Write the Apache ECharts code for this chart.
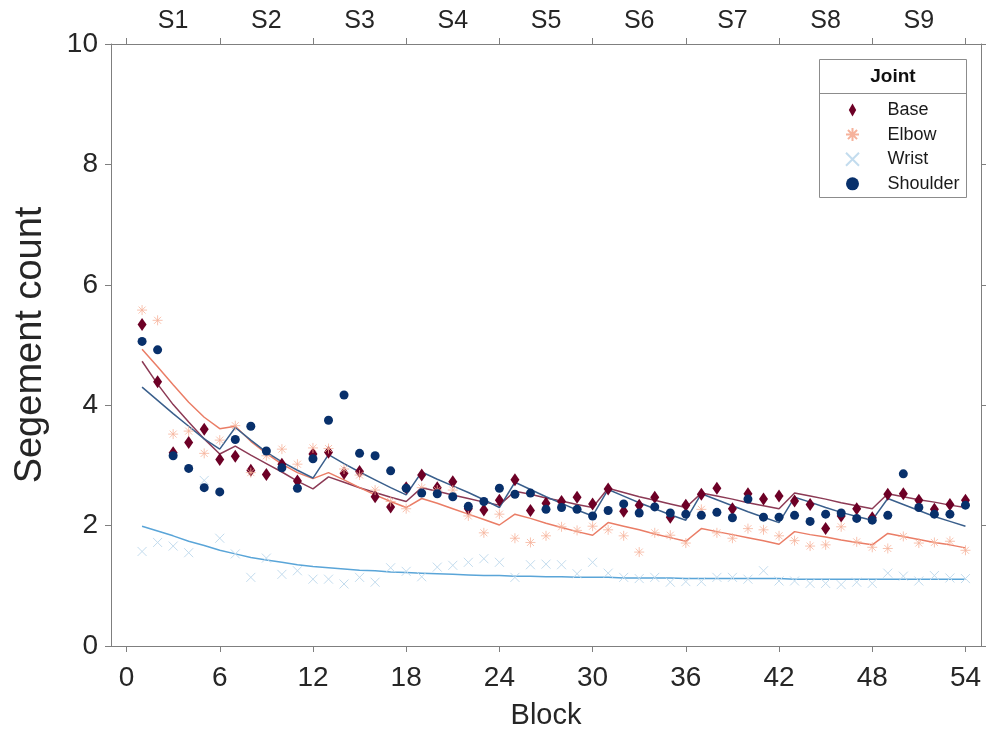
<!DOCTYPE html>
<html><head><meta charset="utf-8">
<script src="https://cdn.jsdelivr.net/npm/echarts@6/dist/echarts.min.js"></script>
<style>html,body{margin:0;padding:0;background:#fff}#c{width:986px;height:736px}</style>
</head><body><div id="c"></div>
<script>
const blocks = [1,2,3,4,5,6,7,8,9,10,11,12,13,14,15,16,17,18,19,20,21,22,23,24,25,26,27,
  28,29,30,31,32,33,34,35,36,37,38,39,40,41,42,43,44,45,46,47,48,49,50,51,52,53,54];
const sessions = ['S1','S2','S3','S4','S5','S6','S7','S8','S9'];
const sessionCenters = [3,9,15,21,27,33,39,45,51];
const blockTicks = [0,6,12,18,24,30,36,42,48,54];

const baseVals = [5.34,4.39,3.21,3.38,3.60,3.10, 3.15,2.92,2.85,3.02,2.74,3.19,
  3.22,2.87,2.90,2.48,2.31,2.63, 2.84,2.63,2.73,2.28,2.26,2.42, 2.76,2.25,2.37,2.40,2.47,2.36,
  2.61,2.24,2.34,2.47,2.14,2.34, 2.52,2.62,2.28,2.53,2.44,2.49, 2.41,2.35,1.95,2.16,2.28,2.13,
  2.52,2.53,2.42,2.27,2.35,2.42];
const elbowVals = [5.58,5.41,3.52,3.57,3.20,3.42, 3.66,2.88,3.16,3.27,3.02,3.29,
  3.28,2.94,2.84,2.59,2.40,2.28, 2.63,2.59,2.59,2.16,1.88,2.19, 1.79,1.72,1.83,1.98,1.92,1.99,
  1.93,1.83,1.56,1.88,1.84,1.71, 2.27,1.88,1.79,1.95,1.93,1.83, 1.75,1.66,1.68,1.98,1.73,1.64,
  1.62,1.82,1.71,1.72,1.74,1.59];
const wristVals = [1.57,1.72,1.66,1.55,2.75,1.79, 1.53,1.14,1.46,1.19,1.25,1.11,
  1.11,1.03,1.14,1.06,1.30,1.24, 1.15,1.31,1.34,1.39,1.45,1.39, 1.14,1.35,1.36,1.35,1.20,1.39,
  1.21,1.14,1.12,1.14,1.06,1.07, 1.07,1.14,1.14,1.11,1.25,1.08, 1.08,1.04,1.04,1.02,1.06,1.04,
  1.21,1.16,1.08,1.17,1.13,1.12];
const shoulderVals = [5.06,4.92,3.16,2.95,2.63,2.56, 3.43,3.65,3.24,2.96,2.62,3.11,
  3.75,4.17,3.20,3.16,2.91,2.62, 2.54,2.53,2.48,2.32,2.40,2.62, 2.52,2.54,2.27,2.30,2.27,2.16,
  2.25,2.36,2.21,2.31,2.21,2.19, 2.17,2.22,2.13,2.44,2.14,2.14, 2.17,2.07,2.19,2.21,2.12,2.09,
  2.17,2.86,2.30,2.19,2.19,2.34];

const baseFit = [4.73,4.35,4.01,3.72,3.44,3.19, 3.32,3.17,3.03,2.89,2.74,2.61,
  2.81,2.72,2.63,2.55,2.47,2.40, 2.63,2.57,2.51,2.45,2.39,2.34, 2.57,2.52,2.46,2.41,2.35,2.30,
  2.62,2.55,2.48,2.42,2.36,2.30, 2.54,2.49,2.44,2.38,2.33,2.28, 2.54,2.49,2.44,2.38,2.33,2.28,
  2.53,2.48,2.43,2.39,2.34,2.30];
const elbowFit = [4.93,4.64,4.34,4.05,3.80,3.61, 3.65,3.40,3.20,3.02,2.88,2.78,
  2.88,2.76,2.63,2.51,2.40,2.30, 2.45,2.37,2.28,2.19,2.10,2.01, 2.19,2.12,2.04,1.97,1.90,1.84,
  2.05,1.99,1.93,1.86,1.80,1.74, 1.95,1.90,1.85,1.80,1.75,1.69, 1.90,1.85,1.81,1.76,1.72,1.68,
  1.87,1.82,1.77,1.72,1.68,1.63];
const wristFit = [1.99,1.91,1.83,1.74,1.67,1.59, 1.53,1.47,1.43,1.39,1.35,1.32,
  1.30,1.28,1.26,1.25,1.23,1.22, 1.21,1.20,1.19,1.18,1.17,1.17, 1.16,1.16,1.15,1.15,1.14,1.14,
  1.14,1.13,1.13,1.13,1.13,1.12, 1.12,1.12,1.12,1.12,1.12,1.12, 1.11,1.11,1.11,1.11,1.11,1.11,
  1.11,1.11,1.11,1.11,1.11,1.11];
const shoulderFit = [4.30,4.08,3.86,3.65,3.44,3.27, 3.63,3.42,3.22,3.06,2.92,2.79,
  3.18,3.03,2.89,2.76,2.63,2.51, 2.89,2.77,2.66,2.55,2.43,2.30, 2.72,2.60,2.48,2.37,2.26,2.16,
  2.60,2.49,2.38,2.28,2.18,2.09, 2.53,2.43,2.33,2.23,2.14,2.05, 2.47,2.39,2.30,2.22,2.15,2.09,
  2.45,2.35,2.25,2.15,2.07,1.99];

const FONT = 'Liberation Sans, Arial, Helvetica, sans-serif';
const AX = '#7f7f7f';
const TXT = '#262626';

const pair = arr => blocks.map((b, i) => [b, arr[i]]);

const DIAMOND = 'path://M4,0L8,7L4,14L0,7Z';
const STAR = 'path://M5,0L5,10M0,5L10,5M1.5,1.5L8.5,8.5M8.5,1.5L1.5,8.5';
const CROSS = 'path://M0,0L10,10M10,0L0,10';

function fitLine(name, data, color) {
  return {
    name, type: 'line', data: pair(data), showSymbol: false, symbol: 'none',
    lineStyle: { color, width: 1.5 }, z: 2, silent: true
  };
}

const chart = echarts.init(document.getElementById('c'), null, { renderer: 'canvas' });
chart.setOption({
  animation: false,
  backgroundColor: '#fff',
  textStyle: { fontFamily: FONT },
  grid: { left: 111, right: 5, top: 44, bottom: 90 },
  xAxis: [{
    type: 'value', min: -1, max: 55, position: 'bottom',
    name: 'Block', nameLocation: 'middle', nameGap: 55,
    nameTextStyle: { fontSize: 29, color: TXT, fontFamily: FONT },
    axisLine: { show: true, onZero: false, lineStyle: { color: AX, width: 1 } },
    axisTick: { show: true, inside: false, length: 6, customValues: blockTicks, lineStyle: { color: AX } },
    axisLabel: { customValues: blockTicks, fontSize: 28, color: TXT, margin: 18, fontFamily: FONT },
    splitLine: { show: false }
  }, {
    type: 'value', min: -1, max: 55, position: 'top',
    axisLine: { show: true, onZero: false, lineStyle: { color: AX, width: 1 } },
    axisTick: { show: true, inside: false, length: 6, customValues: blockTicks, lineStyle: { color: AX } },
    axisLabel: {
      customValues: sessionCenters, fontSize: 25, color: TXT, margin: 10, fontFamily: FONT,
      formatter: v => sessions[sessionCenters.indexOf(v)] || ''
    },
    splitLine: { show: false }
  }],
  yAxis: [{
    type: 'value', min: 0, max: 10, interval: 2, position: 'left',
    name: 'Segement count', nameLocation: 'middle', nameGap: 61,
    nameTextStyle: { fontSize: 38, color: TXT, fontFamily: FONT },
    axisLine: { show: true, onZero: false, lineStyle: { color: AX, width: 1 } },
    axisTick: { show: true, inside: false, length: 6, lineStyle: { color: AX } },
    axisLabel: { fontSize: 28, color: TXT, margin: 13, fontFamily: FONT },
    splitLine: { show: false }
  }, {
    type: 'value', min: 0, max: 10, interval: 2, position: 'right',
    axisLine: { show: true, onZero: false, lineStyle: { color: AX, width: 1 } },
    axisTick: { show: true, inside: false, length: 6, lineStyle: { color: AX } },
    axisLabel: { show: false },
    splitLine: { show: false }
  }],
  legend: {
    data: ['Base', 'Elbow', 'Wrist', 'Shoulder'],
    orient: 'vertical', left: 840, top: 96, z: 10,
    itemWidth: 60, itemHeight: 13, itemGap: 6.6,
    textStyle: { fontSize: 18, color: '#1a1a1a', fontFamily: FONT, lineHeight: 13 },
    selectedMode: false
  },
  graphic: [
    { type: 'rect', z: 5, shape: { x: 819.5, y: 59.5, width: 147, height: 138 },
      style: { fill: '#fff', stroke: '#8c8c8c', lineWidth: 1 } },
    { type: 'line', z: 6, shape: { x1: 819.5, y1: 93.5, x2: 966.5, y2: 93.5 },
      style: { stroke: '#8c8c8c', lineWidth: 1 } },
    { type: 'text', z: 6, x: 893, y: 77,
      style: { text: 'Joint', fontSize: 19, fontWeight: 'bold', fill: '#111', fontFamily: FONT,
        align: 'center', verticalAlign: 'middle' } }
  ],
  series: [
    fitLine('Base fit', baseFit, '#8c3a55'),
    fitLine('Elbow fit', elbowFit, '#ea7d66'),
    fitLine('Wrist fit', wristFit, '#5aa5d8'),
    fitLine('Shoulder fit', shoulderFit, '#3a5f8c'),
    { name: 'Base', type: 'scatter', data: pair(baseVals), symbol: DIAMOND, symbolSize: [9, 13],
      itemStyle: { color: '#6d0026', opacity: 1 }, z: 3 },
    { name: 'Elbow', type: 'scatter', data: pair(elbowVals), symbol: STAR, symbolSize: 10,
      itemStyle: { color: '#f6b29b', borderColor: '#f6b29b', borderWidth: 0.8, opacity: 1 }, z: 3 },
    { name: 'Wrist', type: 'scatter', data: pair(wristVals), symbol: CROSS, symbolSize: 9,
      itemStyle: { color: '#c3dcee', borderColor: '#c3dcee', borderWidth: 1, opacity: 1 }, z: 3 },
    { name: 'Shoulder', type: 'scatter', data: pair(shoulderVals), symbol: 'circle', symbolSize: 9,
      itemStyle: { color: '#08306b', opacity: 1 }, z: 3 }
  ]
});
</script></body></html>
